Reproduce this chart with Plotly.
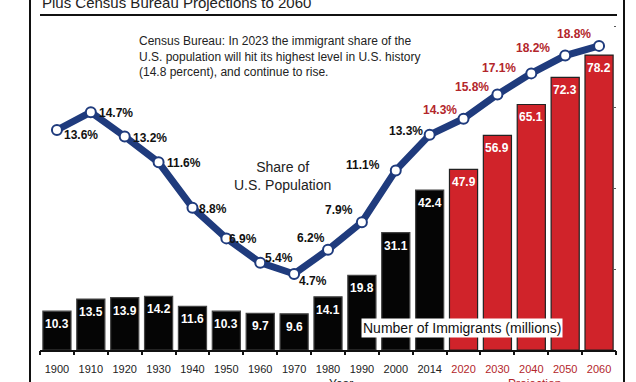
import plotly.graph_objects as go

years = ["1900", "1910", "1920", "1930", "1940", "1950", "1960", "1970", "1980",
         "1990", "2000", "2014", "2020", "2030", "2040", "2050", "2060"]
immigrants = [10.3, 13.5, 13.9, 14.2, 11.6, 10.3, 9.7, 9.6, 14.1,
              19.8, 31.1, 42.4, 47.9, 56.9, 65.1, 72.3, 78.2]
share = [13.6, 14.7, 13.2, 11.6, 8.8, 6.9, 5.4, 4.7, 6.2,
         7.9, 11.1, 13.3, 14.3, 15.8, 17.1, 18.2, 18.8]
projected = [False] * 12 + [True] * 5

title_text = "Plus Census Bureau Projections to 2060"
note_text = ("Census Bureau: In 2023 the immigrant share of the<br>"
             "U.S. population will hit its highest level in U.S. history<br>"
             "(14.8 percent), and continue to rise.")

# label offsets (px) for percentage labels relative to their points (right, up)
label_right = [24, 25, 25, 25, 21, 17, 19, 19, -17, -23, -33, -24, -24, -25, -32, -32, -25]
label_up = [-5, -1, -2, -1, -1, -1, 5, -7, 12, 12, 5, 4, 9, 7, 5, 8, 12]

NAVY = "#1f3b7d"
RED = "#d0232a"
DARKRED = "#b3262b"
FONT = "Liberation Sans, Arial, sans-serif"

W, H = 636, 382
L, R, T, B = 40, 20, 20, 32
PH = H - T - B
PW = W - L - R


def px_x(x):
    return (x - L) / PW


def px_y(y):
    return (H - B - y) / PH


idx = list(range(len(years)))
bar_colors = [RED if p else "#050505" for p in projected]
bar_lines = ["#222222" if p else "#444444" for p in projected]

fig = go.Figure()
fig.add_trace(go.Bar(
    x=idx, y=immigrants,
    marker=dict(color=bar_colors, line=dict(color=bar_lines, width=1.2)),
    hoverinfo="skip", showlegend=False,
))
fig.add_trace(go.Scatter(
    x=idx, y=share, yaxis="y2", mode="lines+markers",
    line=dict(color=NAVY, width=7),
    marker=dict(size=10, color="white", line=dict(color=NAVY, width=2)),
    hoverinfo="skip", showlegend=False,
))

annotations = []
# value labels inside the bars
for i, v in zip(idx, immigrants):
    annotations.append(dict(
        x=i, y=v, xref="x", yref="y", text=f"{v:.1f}", showarrow=False,
        yanchor="middle", yshift=-13,
        font=dict(family=FONT, size=12, color="white", weight="bold"),
    ))
# share labels next to the line points
for i, s, p, dx, dy in zip(idx, share, projected, label_right, label_up):
    annotations.append(dict(
        x=i, y=s, xref="x", yref="y2", text=f"{s:.1f}%", showarrow=False,
        xshift=dx, yshift=dy,
        font=dict(family=FONT, size=12, color=DARKRED if p else "#111111",
                  weight="bold"),
    ))

annotations += [
    dict(x=px_x(40), y=px_y(2), xref="paper", yref="paper", text=title_text,
         showarrow=False, xanchor="left", yanchor="middle",
         font=dict(family=FONT, size=15, color="#222222")),
    dict(x=px_x(137), y=px_y(32), xref="paper", yref="paper", text=note_text,
         showarrow=False, xanchor="left", yanchor="top", align="left",
         font=dict(family=FONT, size=12, color="#222222")),
    dict(x=px_x(282), y=px_y(176), xref="paper", yref="paper",
         text="Share of<br>U.S. Population", showarrow=False,
         xanchor="center", yanchor="middle", align="center",
         font=dict(family=FONT, size=14, color="#222222")),
    dict(x=px_x(462), y=px_y(328), xref="paper", yref="paper",
         text="Number of Immigrants (millions)", showarrow=False,
         xanchor="center", yanchor="middle", bgcolor="white", borderpad=1,
         font=dict(family=FONT, size=14, color="#111111")),
    dict(x=px_x(341), y=px_y(384), xref="paper", yref="paper", text="Year",
         showarrow=False, xanchor="center", yanchor="middle",
         font=dict(family=FONT, size=12, color="#222222")),
    dict(x=px_x(534), y=px_y(384), xref="paper", yref="paper", text="Projection",
         showarrow=False, xanchor="center", yanchor="middle",
         font=dict(family=FONT, size=12, color=DARKRED)),
]

shapes = [
    dict(type="line", xref="paper", yref="paper", x0=px_x(40), x1=px_x(617),
         y0=px_y(15), y1=px_y(15), line=dict(color="#111111", width=2)),
    dict(type="line", xref="paper", yref="paper", x0=px_x(30), x1=px_x(30),
         y0=px_y(H + 5), y1=px_y(-5), line=dict(color="#111111", width=2)),
    dict(type="line", xref="paper", yref="paper", x0=px_x(624), x1=px_x(624),
         y0=px_y(H + 5), y1=px_y(-5), line=dict(color="#111111", width=2)),
]

ticktext = [f"<span style='color:{DARKRED}'>{y}</span>" if p else y
            for y, p in zip(years, projected)]
tickpos = [i - 0.5 for i in idx] + [idx[-1] + 0.5]

fig.update_layout(
    width=W, height=H,
    margin=dict(l=L, r=R, t=T, b=B),
    paper_bgcolor="white", plot_bgcolor="white",
    bargap=0.17,
    font=dict(family=FONT, color="#222222"),
    xaxis=dict(tickmode="array", tickvals=idx, ticktext=ticktext, tickangle=0,
               showline=True, linecolor="#111111", linewidth=2,
               ticks="", automargin=False, ticklabelstandoff=8,
               tickfont=dict(family=FONT, size=11, color="#222222"),
               showgrid=False, zeroline=False, range=[-0.5, 16.5]),
    xaxis2=dict(overlaying="x", range=[-0.5, 16.5], tickmode="array",
                tickvals=tickpos, showticklabels=False, ticks="outside",
                ticklen=4, tickcolor="#111111", tickwidth=1.5, side="bottom",
                showgrid=False, zeroline=False, automargin=False),
    yaxis=dict(range=[0, 87.5], visible=False, showgrid=False, zeroline=False),
    yaxis2=dict(range=[0, 20.4], overlaying="y", side="right", showgrid=False,
                zeroline=False, showticklabels=False, ticks="inside", ticklen=2,
                tickcolor="#555555", tickvals=[5, 10, 15, 20], showline=False,
                automargin=False),
    annotations=annotations,
    shapes=shapes,
)
# invisible trace to activate the boundary-tick axis
fig.add_trace(go.Scatter(x=[idx[0]], y=[0], xaxis="x2", mode="markers",
                         marker=dict(opacity=0), hoverinfo="skip",
                         showlegend=False))

fig.write_html("out.html", config={"displayModeBar": False},
               post_script="document.body.style.margin='0';"
                           "document.body.style.overflow='hidden';")
